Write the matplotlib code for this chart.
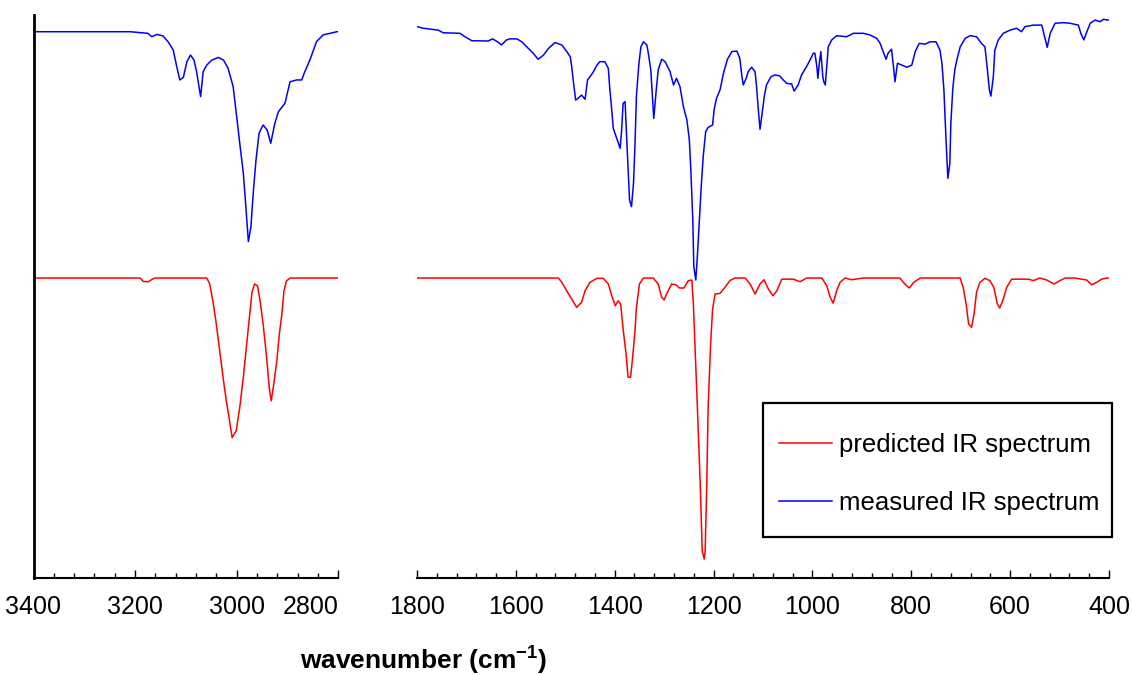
import numpy as np
import matplotlib
matplotlib.use("Agg")
import matplotlib.pyplot as plt
from matplotlib.ticker import MultipleLocator
from matplotlib.patches import Rectangle

# ---- data: wavenumber (cm-1) and relative transmittance (%) ----
# high-frequency region 3400-2800
meas_hi_wn = [3400, 3210, 3175, 3167, 3157, 3145, 3135, 3125, 3118, 3112, 3105, 3098, 3091,
              3084, 3079, 3071, 3066, 3059, 3049, 3036, 3026, 3017, 3007, 3000, 2994, 2987,
              2982, 2977, 2972, 2967, 2962, 2956, 2948, 2940, 2933, 2925, 2918, 2905, 2895,
              2882, 2872, 2866, 2856, 2843, 2830, 2816, 2803, 2800]
meas_hi_t = [95.2, 95.2, 94.6, 93.3, 94.2, 93.6, 91.4, 88.3, 82.0, 77.0, 78.0, 83.9, 86.4,
             84.5, 80.1, 70.7, 80.1, 82.6, 84.5, 85.5, 84.5, 81.4, 74.5, 63.1, 53.1, 41.9,
             29.2, 16.0, 21.6, 35.5, 46.8, 56.9, 60.0, 58.1, 53.1, 60.6, 65.0, 68.2, 76.3,
             77.0, 77.0, 80.1, 84.5, 91.4, 94.0, 94.6, 95.2, 95.2]

pred_hi_wn = [3400, 3190, 3184, 3174, 3164, 3161, 3059, 3053, 3047, 3041, 3036, 3031, 3026,
              3020, 3015, 3009, 3001, 2994, 2987, 2980, 2975, 2970, 2965, 2959, 2954, 2948,
              2941, 2936, 2932, 2927, 2921, 2916, 2911, 2907, 2902, 2895, 2800]
pred_hi_t = [100, 100, 98.8, 98.7, 99.8, 100, 100, 97.9, 92.0, 85.0, 78.0, 71.0, 64.0,
             56.4, 51.0, 44.0, 46.4, 54.6, 65.1, 77.4, 86.2, 94.9, 97.9, 97.3, 92.0, 83.9,
             72.1, 61.6, 56.9, 62.8, 71.0, 80.4, 87.4, 95.5, 99.0, 100, 100]

# fingerprint region 1800-400
meas_lo_wn = [1800, 1787, 1757, 1747, 1713, 1703, 1689, 1656, 1647, 1637, 1629, 1619, 1612,
              1598, 1588, 1578, 1565, 1555, 1544, 1534, 1521, 1507, 1497, 1490, 1487, 1484,
              1479, 1474, 1467, 1460, 1455, 1450, 1443, 1436, 1430, 1420, 1413, 1410, 1406,
              1403, 1396, 1389, 1386, 1383, 1379, 1375, 1370, 1366, 1362, 1359, 1356, 1351,
              1347, 1342, 1335, 1332, 1327, 1323, 1321, 1316, 1312, 1305, 1298, 1288, 1281,
              1275, 1268, 1261, 1254, 1249, 1246, 1242, 1240, 1236, 1233, 1229, 1225, 1221,
              1216, 1211, 1202, 1199, 1194, 1187, 1180, 1172, 1163, 1153, 1147, 1143, 1140,
              1134, 1130, 1123, 1116, 1113, 1110, 1106, 1101, 1097, 1093, 1084, 1076, 1066,
              1059, 1052, 1042, 1037, 1029, 1022, 1012, 1005, 998, 995, 991, 989, 986, 983,
              979, 977, 974, 971, 968, 961, 951, 931, 917, 897, 884, 870, 863, 857, 851, 847,
              840, 836, 833, 828, 819, 809, 799, 792, 784, 772, 762, 750, 742, 738, 734, 730,
              726, 722, 720, 716, 712, 707, 701, 691, 681, 668, 658, 651, 646, 642, 639, 634,
              631, 624, 614, 600, 587, 577, 570, 553, 536, 532, 527, 525, 519, 509, 492, 479,
              462, 457, 451, 446, 438, 428, 418, 411, 403, 400]
meas_lo_t = [97.1, 96.5, 95.8, 94.8, 94.6, 93.3, 91.8, 91.7, 92.5, 91.4, 90.2, 92.1, 92.5,
             92.5, 91.4, 89.5, 87.1, 84.8, 86.4, 88.9, 91.1, 90.2, 87.7, 85.8, 82.0, 77.0,
             69.4, 70.1, 71.3, 69.7, 77.0, 78.2, 80.1, 82.6, 83.9, 83.9, 81.4, 73.8, 65.7,
             58.8, 55.0, 51.2, 58.1, 68.2, 68.8, 51.8, 31.7, 29.2, 38.0, 52.5, 71.3, 83.3,
             89.5, 91.4, 90.2, 87.1, 80.8, 68.2, 62.5, 73.2, 80.8, 84.8, 83.9, 80.1, 75.1,
             77.6, 74.5, 66.9, 61.9, 54.3, 43.0, 24.2, 6.5, 1.5, 9.7, 22.9, 36.7, 48.0,
             57.5, 59.1, 60.0, 65.7, 70.1, 73.2, 79.5, 84.8, 87.7, 87.9, 85.2, 78.9, 75.1,
             77.6, 80.1, 81.8, 80.1, 74.5, 66.9, 58.4, 65.7, 71.3, 75.1, 78.2, 78.9, 78.5,
             77.0, 75.7, 75.5, 72.8, 75.1, 78.9, 82.0, 84.5, 87.1, 87.1, 82.0, 77.6, 83.3, 87.7,
             78.2, 76.3, 75.1, 82.0, 89.5, 92.1, 93.7, 93.3, 94.6, 94.6, 94.0, 92.7, 90.8, 87.7, 84.8, 87.1,
             88.6, 82.0, 76.3, 83.3, 82.6, 81.8, 82.6, 87.7, 90.8, 90.5, 91.4, 91.4, 88.3, 83.3, 73.2, 55.6,
             39.9, 45.5, 60.6, 73.8, 80.8, 85.2, 89.5, 92.7, 93.7, 93.3, 90.8, 89.5, 80.8, 73.2, 70.9, 78.2,
             88.3, 92.1, 94.6, 95.8, 96.5, 95.2, 97.1, 97.7, 97.7, 94.6, 90.8, 89.3, 94.6, 98.4, 98.6, 98.4,
             97.7, 94.6, 92.1, 94.6, 98.4, 99.6, 99.0, 99.9, 99.6, 99.6]

pred_lo_wn = [1800, 1514, 1507, 1497, 1487, 1477, 1467, 1460, 1450, 1436, 1423, 1413, 1406,
              1399, 1393, 1388, 1383, 1377, 1373, 1368, 1364, 1359, 1356, 1350, 1342, 1322,
              1312, 1305, 1300, 1295, 1285, 1276, 1269, 1260, 1251, 1244, 1241, 1238, 1233,
              1227, 1223, 1219, 1217, 1214, 1211, 1206, 1202, 1197, 1187, 1177, 1167, 1157,
              1136, 1126, 1116, 1106, 1098, 1089, 1080, 1072, 1062, 1039, 1025, 1012, 981,
              971, 964, 958, 951, 944, 934, 921, 897, 823, 813, 804, 795, 782, 701, 695, 689,
              684, 678, 673, 668, 661, 651, 641, 633, 626, 621, 614, 607, 597, 563, 553, 540,
              526, 511, 499, 489, 469, 445, 435, 425, 415, 405, 400]
pred_lo_t = [100, 100, 98.5, 95.5, 92.6, 89.7, 91.5, 95.5, 98.5, 99.9, 99.9, 97.9, 93.8,
             90.3, 92.0, 90.9, 82.1, 73.3, 65.2, 65.2, 71.6, 81.5, 89.7, 97.9, 100, 100,
             97.9, 93.2, 92.3, 94.4, 97.9, 97.6, 96.5, 96.5, 99.1, 99.3, 91.5, 78.0, 55.8,
             27.7, 4.3, 1.4, 4.3, 25.4, 54.6, 76.8, 89.1, 94.4, 94.6, 96.7, 99.1, 100,
             100, 97.9, 94.4, 97.9, 99.4, 96.1, 93.8, 95.5, 99.6, 99.6, 98.7, 100, 100,
             97.3, 93.2, 91.2, 95.5, 98.5, 100, 99.4, 100, 100, 97.9, 96.5, 98.5, 100, 100, 96.7, 90.9,
             83.9, 82.7, 87.4, 95.0, 98.5, 99.9, 99.1, 96.7, 90.9, 89.5, 92.6, 96.7, 99.6, 99.6, 99.1, 100,
             99.3, 97.9, 99.1, 100, 100, 99.3, 97.6, 98.5, 99.6, 100, 100]

legend_labels = ["predicted IR spectrum", "measured IR spectrum"]

# ---- style ----
plt.rcParams.update({
    "font.family": ["Liberation Sans", "DejaVu Sans"],
    "mathtext.fontset": "custom",
    "mathtext.rm": "Liberation Sans",
    "mathtext.bf": "Liberation Sans:bold",
})

RED = "#FF0000"
BLUE = "#0000FF"
# each spectrum is drawn in its own band of the (hidden) y axis
BLUE_OFF, BLUE_SCALE = 0.5222, 0.004707
RED_OFF, RED_SCALE = 0.0266, 0.005062

fig = plt.figure(figsize=(11.32, 6.75), dpi=100)
ax1 = fig.add_axes([33.5 / 1132, 97 / 675, 304.8 / 1132, 563 / 675])
ax2 = fig.add_axes([417 / 1132, 97 / 675, 692 / 1132, 563 / 675])


def draw(ax, wn_b, t_b, wn_r, t_r):
    lr, = ax.plot(wn_r, RED_OFF + RED_SCALE * np.array(t_r), color=RED, lw=1.1)
    lb, = ax.plot(wn_b, BLUE_OFF + BLUE_SCALE * np.array(t_b), color=BLUE, lw=1.1)
    ax.set_ylim(0, 1)
    ax.set_yticks([])
    ax.spines["top"].set_visible(False)
    ax.spines["right"].set_visible(False)
    ax.spines["bottom"].set_linewidth(1.5)
    ax.xaxis.set_major_locator(MultipleLocator(200))
    ax.xaxis.set_minor_locator(MultipleLocator(40))
    ax.tick_params(axis="x", which="major", direction="in", length=5.5, width=1,
                   labelsize=18, pad=12)
    ax.tick_params(axis="x", which="minor", direction="in", length=3.6, width=1)
    return lr, lb


draw(ax1, meas_hi_wn, meas_hi_t, pred_hi_wn, pred_hi_t)
ax1.set_xlim(3400, 2800)
ax1.spines["left"].set_linewidth(2)

lr, lb = draw(ax2, meas_lo_wn, meas_lo_t, pred_lo_wn, pred_lo_t)
ax2.set_xlim(1800, 400)
ax2.spines["left"].set_visible(False)

# keep the 2800 label clear of 1800
fig.canvas.draw()
for lab in ax1.get_xticklabels():
    if lab.get_text() == "2800":
        lab.set_horizontalalignment("right")

# legend entries without frame, box drawn separately
leg = ax2.legend([lr, lb], legend_labels, loc="upper left",
                 bbox_to_anchor=(0.5231, 0.258), fontsize=18.5, frameon=False,
                 handlelength=2.05, handletextpad=0.3, labelspacing=1.33,
                 borderpad=0, borderaxespad=0)
ax2.add_patch(Rectangle((0.4996, 0.0734), 0.5043, 0.2369, transform=ax2.transAxes,
                        fill=False, edgecolor="black", lw=1.6, clip_on=False))

fig.text(424 / 1132, 15 / 675, r"wavenumber (cm$^{\mathbf{-1}}$)", ha="center",
         va="center", fontsize=19, fontweight="bold")

fig.savefig("out.png", dpi=100)
